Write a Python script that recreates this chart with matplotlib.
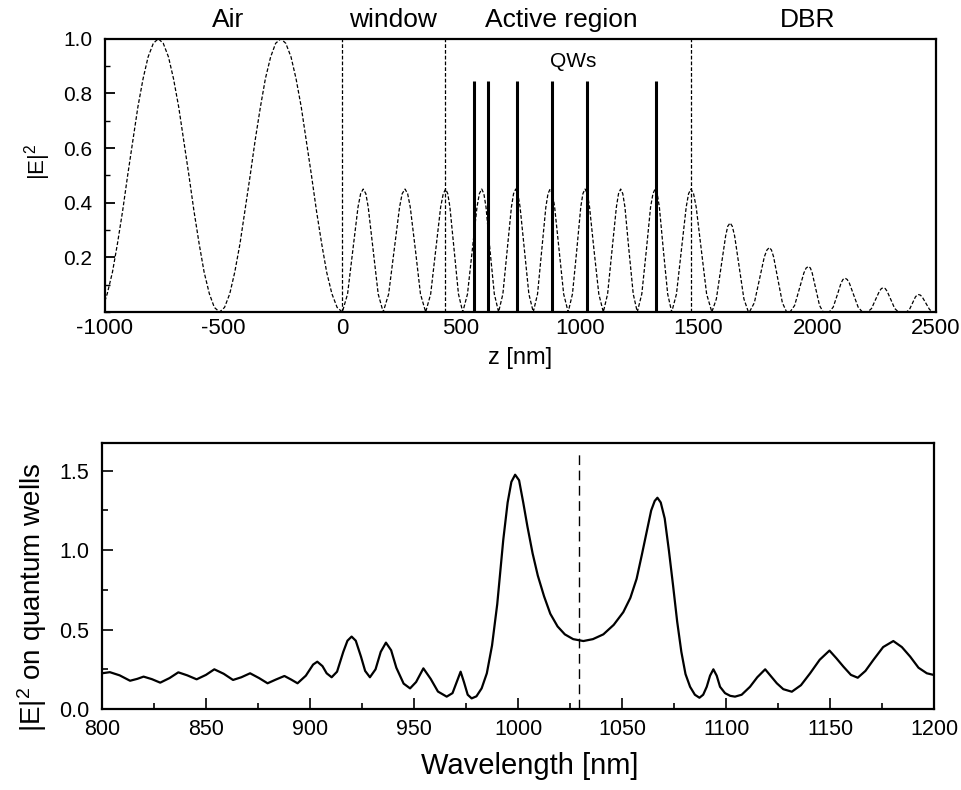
import matplotlib
matplotlib.use('Agg')
import matplotlib.pyplot as plt
from matplotlib.ticker import MultipleLocator, FixedLocator
import matplotlib.transforms as mtrans

plt.rcParams['font.family'] = ['Liberation Sans', 'DejaVu Sans']
plt.rcParams['mathtext.fontset'] = 'custom'
plt.rcParams['mathtext.rm'] = 'Liberation Sans'
plt.rcParams['mathtext.default'] = 'regular'
plt.rcParams['axes.unicode_minus'] = False

# ---- top panel: field intensity along the structure
z_nm = [-1000, -990, -968, -947, -925, -904, -882, -861, -839, -818, -796, -775,
        -754, -732, -711, -689, -668, -646, -625, -603, -582, -560, -539, -517,
        -496, -474, -453, -431, -410, -388, -367, -345, -324, -302, -281, -259,
        -238, -216, -195, -173, -152, -130, -109, -87, -66, -44, -22, 0,
        22, 44, 66, 77, 88, 99, 109, 130, 151, 172,
        195, 218, 241, 252, 264, 275, 286, 308, 329, 351,
        372, 393, 414, 425, 435, 444, 453, 471, 489, 507,
        527, 547, 567, 577, 587, 596, 605, 622, 640, 658,
        676, 694, 712, 721, 730, 739, 748.5, 767, 785.5, 804,
        822, 839.5, 857, 866, 875, 885, 894, 913, 932, 951,
        969, 987, 1004, 1013, 1022, 1032, 1041, 1060, 1080, 1099,
        1117, 1135.5, 1154, 1163, 1172, 1181, 1190, 1207, 1225, 1242,
        1261, 1280, 1298, 1308, 1317, 1326, 1335, 1352, 1370, 1387,
        1407, 1427.5, 1448, 1458, 1468, 1479, 1490, 1512, 1534, 1556,
        1575, 1594.5, 1614, 1623, 1633, 1642, 1652, 1671.5, 1691, 1710,
        1714, 1735, 1756, 1777, 1788, 1798, 1807, 1816, 1834.5, 1853, 1871,
        1885, 1904.5, 1924, 1943.5, 1953, 1963, 1971, 1978.5, 1994, 2009.5, 2025,
        2050, 2067, 2084, 2100, 2108, 2117, 2126, 2135, 2153.5, 2172, 2190,
        2212, 2228.5, 2245, 2261.5, 2270, 2278, 2286, 2294, 2310, 2326, 2342,
        2375, 2388, 2400.5, 2413, 2420, 2426, 2434, 2442, 2457.5, 2473, 2489, 2500]
e2_z = [0.04, 0.067, 0.146, 0.25, 0.371, 0.5, 0.629, 0.75, 0.854, 0.933, 0.983, 1.0,
        0.983, 0.933, 0.854, 0.75, 0.629, 0.5, 0.371, 0.25, 0.146, 0.067, 0.017, 0.0,
        0.017, 0.067, 0.146, 0.25, 0.371, 0.5, 0.629, 0.75, 0.854, 0.933, 0.983, 1.0,
        0.983, 0.933, 0.854, 0.75, 0.629, 0.5, 0.371, 0.25, 0.146, 0.067, 0.017, 0.0,
        0.066, 0.225, 0.384, 0.433, 0.45, 0.433, 0.384, 0.225, 0.066, 0.0,
        0.066, 0.225, 0.384, 0.433, 0.45, 0.433, 0.384, 0.225, 0.066, 0.0,
        0.066, 0.225, 0.384, 0.433, 0.45, 0.433, 0.384, 0.225, 0.066, 0.0,
        0.066, 0.225, 0.384, 0.433, 0.45, 0.433, 0.384, 0.225, 0.066, 0.0,
        0.066, 0.225, 0.384, 0.433, 0.45, 0.433, 0.384, 0.225, 0.066, 0.0,
        0.066, 0.225, 0.384, 0.433, 0.45, 0.433, 0.384, 0.225, 0.066, 0.0,
        0.066, 0.225, 0.384, 0.433, 0.45, 0.433, 0.384, 0.225, 0.066, 0.0,
        0.066, 0.225, 0.384, 0.433, 0.45, 0.433, 0.384, 0.225, 0.066, 0.0,
        0.066, 0.225, 0.384, 0.433, 0.45, 0.433, 0.384, 0.225, 0.066, 0.0,
        0.066, 0.225, 0.384, 0.433, 0.45, 0.433, 0.384, 0.225, 0.066, 0.0,
        0.048, 0.163, 0.278, 0.314, 0.326, 0.314, 0.278, 0.163, 0.048, 0.0,
        0.0, 0.034, 0.118, 0.202, 0.227, 0.236, 0.227, 0.202, 0.118, 0.034, 0.0,
        0.0, 0.024, 0.084, 0.143, 0.161, 0.167, 0.161, 0.143, 0.084, 0.024, 0.0,
        0.0, 0.018, 0.062, 0.106, 0.119, 0.124, 0.119, 0.106, 0.062, 0.018, 0.0,
        0.0, 0.013, 0.045, 0.076, 0.086, 0.089, 0.086, 0.076, 0.045, 0.013, 0.0,
        0.0, 0.009, 0.032, 0.055, 0.062, 0.064, 0.062, 0.055, 0.032, 0.009, 0.0, 0.0]

qw_pos = [554, 612, 734, 882, 1029, 1320]
qw_height = 0.845
interfaces = [0, 432, 1468]
region_names = ['Air', 'window', 'Active region', 'DBR']
region_centers = [-482, 213, 921, 1961]

# ---- bottom panel: |E|^2 on the wells vs wavelength
wl = [800, 803.8, 808.5, 813.5, 817, 820, 824, 828, 832.5, 836.7, 841, 845.5,
      850, 854, 858.5, 863, 867, 871.2, 875.5, 879.6, 883.5, 887.7, 891, 894,
      898, 901.5, 903.5, 906, 908, 910.4, 913, 916, 918, 920, 922, 924.5,
      926.5, 928.8, 931.5, 934, 936.5, 939, 941.5, 945, 948.1, 951, 954.5,
      958, 961.5, 965.7, 968.5, 970.5, 972.4, 974, 975.8, 977.7, 980, 982.5,
      985, 987.5, 990, 992.9, 995, 996.8, 998.6, 1000.5, 1002.5, 1004.5, 1007,
      1009.5, 1012.5, 1015.5, 1019, 1022.5, 1026.5, 1031.4, 1036, 1041, 1046,
      1050.6, 1054, 1057, 1059.5, 1061.9, 1064, 1065.7, 1067, 1068.6, 1070.5,
      1072.5, 1074.5, 1076.5, 1078.5, 1080.5, 1082.7, 1085, 1087.2, 1089,
      1090.7, 1092.3, 1093.9, 1095.5, 1097.1, 1099.5, 1102, 1104.3, 1107.5,
      1111.5, 1115, 1118.8, 1122, 1124.4, 1127.5, 1131.6, 1136, 1140.4, 1145,
      1149.7, 1153, 1156.4, 1160, 1163.3, 1167, 1170.8, 1175.5, 1180.4,
      1184.5, 1188.5, 1192.5, 1196.5, 1200]
e2_qw = [0.225, 0.232, 0.212, 0.178, 0.19, 0.204, 0.188, 0.166, 0.195, 0.231,
         0.212, 0.187, 0.215, 0.25, 0.222, 0.183, 0.2, 0.225, 0.195, 0.162,
         0.185, 0.208, 0.185, 0.162, 0.21, 0.28, 0.298, 0.27, 0.225, 0.2,
         0.235, 0.36, 0.43, 0.456, 0.43, 0.33, 0.24, 0.2, 0.25, 0.36, 0.418,
         0.37, 0.26, 0.16, 0.13, 0.17, 0.256, 0.19, 0.11, 0.078, 0.1, 0.17,
         0.235, 0.17, 0.09, 0.067, 0.08, 0.13, 0.225, 0.4, 0.66, 1.065, 1.3,
         1.43, 1.475, 1.44, 1.3, 1.15, 0.98, 0.84, 0.71, 0.6, 0.52, 0.47,
         0.44, 0.428, 0.44, 0.47, 0.53, 0.61, 0.7, 0.82, 0.97, 1.12, 1.25,
         1.31, 1.33, 1.3, 1.2, 1.0, 0.78, 0.55, 0.36, 0.22, 0.14, 0.09, 0.071,
         0.09, 0.14, 0.21, 0.25, 0.21, 0.14, 0.1, 0.083, 0.078, 0.09, 0.14,
         0.2, 0.25, 0.2, 0.162, 0.125, 0.109, 0.15, 0.225, 0.31, 0.368, 0.32,
         0.267, 0.215, 0.197, 0.24, 0.309, 0.39, 0.428, 0.39, 0.33, 0.26,
         0.225, 0.214]
design_wl = 1029.5

fig = plt.figure(figsize=(9.62, 7.9), dpi=100)
ax1 = fig.add_axes([0.109, 0.605, 0.864, 0.346])
ax2 = fig.add_axes([0.106, 0.1025, 0.865, 0.337])

# top panel
ax1.plot(z_nm, e2_z, color='k', lw=0.9, dashes=(3, 1.6))
for zi in interfaces:
    ax1.axvline(zi, color='k', lw=0.9, dashes=(3, 1.6))
ax1.vlines(qw_pos, 0, qw_height, color='k', lw=2.2)
ax1.set_xlim(-1000, 2500)
ax1.set_ylim(0, 1.0)
ax1.xaxis.set_major_locator(MultipleLocator(500))
ax1.yaxis.set_major_locator(FixedLocator([0.2, 0.4, 0.6, 0.8, 1.0]))
ax1.yaxis.set_minor_locator(MultipleLocator(0.1))
ax1.tick_params(axis='x', length=0, pad=4, labelsize=16)
ax1.tick_params(axis='y', which='major', direction='in', length=7, width=1.3,
                pad=9, labelsize=15)
ax1.tick_params(axis='y', which='minor', direction='in', length=3.5, width=1.0)
ax1.set_xlabel('z [nm]', fontsize=17)
ax1.xaxis.set_label_coords(0.5, -0.128)
ax1.set_ylabel('|E|$^2$', fontsize=16)
ax1.yaxis.set_label_coords(-0.062, 0.55)
trans = mtrans.blended_transform_factory(ax1.transData, ax1.transAxes)
for name, zc in zip(region_names, region_centers):
    ax1.text(zc, 1.07, name, transform=trans, ha='center', va='center',
             fontsize=19)
ax1.text(971, 0.915, 'QWs', ha='center', va='center', fontsize=15)

# bottom panel
ax2.plot(wl, e2_qw, color='k', lw=1.6)
ax2.axvline(design_wl, ymin=0, ymax=1.61 / 1.676, color='k', lw=1.0,
            dashes=(7, 4))
ax2.set_xlim(800, 1200)
ax2.set_ylim(0, 1.676)
ax2.xaxis.set_major_locator(MultipleLocator(50))
ax2.xaxis.set_minor_locator(MultipleLocator(25))
ax2.yaxis.set_major_locator(MultipleLocator(0.5))
ax2.yaxis.set_minor_locator(MultipleLocator(0.25))
ax2.tick_params(which='major', direction='in', length=8, width=1.2,
                labelsize=15.5)
ax2.tick_params(which='minor', direction='in', length=4, width=1.2)
ax2.tick_params(axis='x', pad=7)
ax2.tick_params(axis='y', pad=9)
ax2.set_xlabel('Wavelength [nm]', fontsize=21)
ax2.xaxis.set_label_coords(0.514, -0.162)
ax2.set_ylabel('|E|$^2$ on quantum wells', fontsize=20)
ax2.yaxis.set_label_coords(-0.064, 0.42)

for ax in (ax1, ax2):
    for sp in ax.spines.values():
        sp.set_linewidth(1.6)

fig.savefig('out.png', dpi=100)
